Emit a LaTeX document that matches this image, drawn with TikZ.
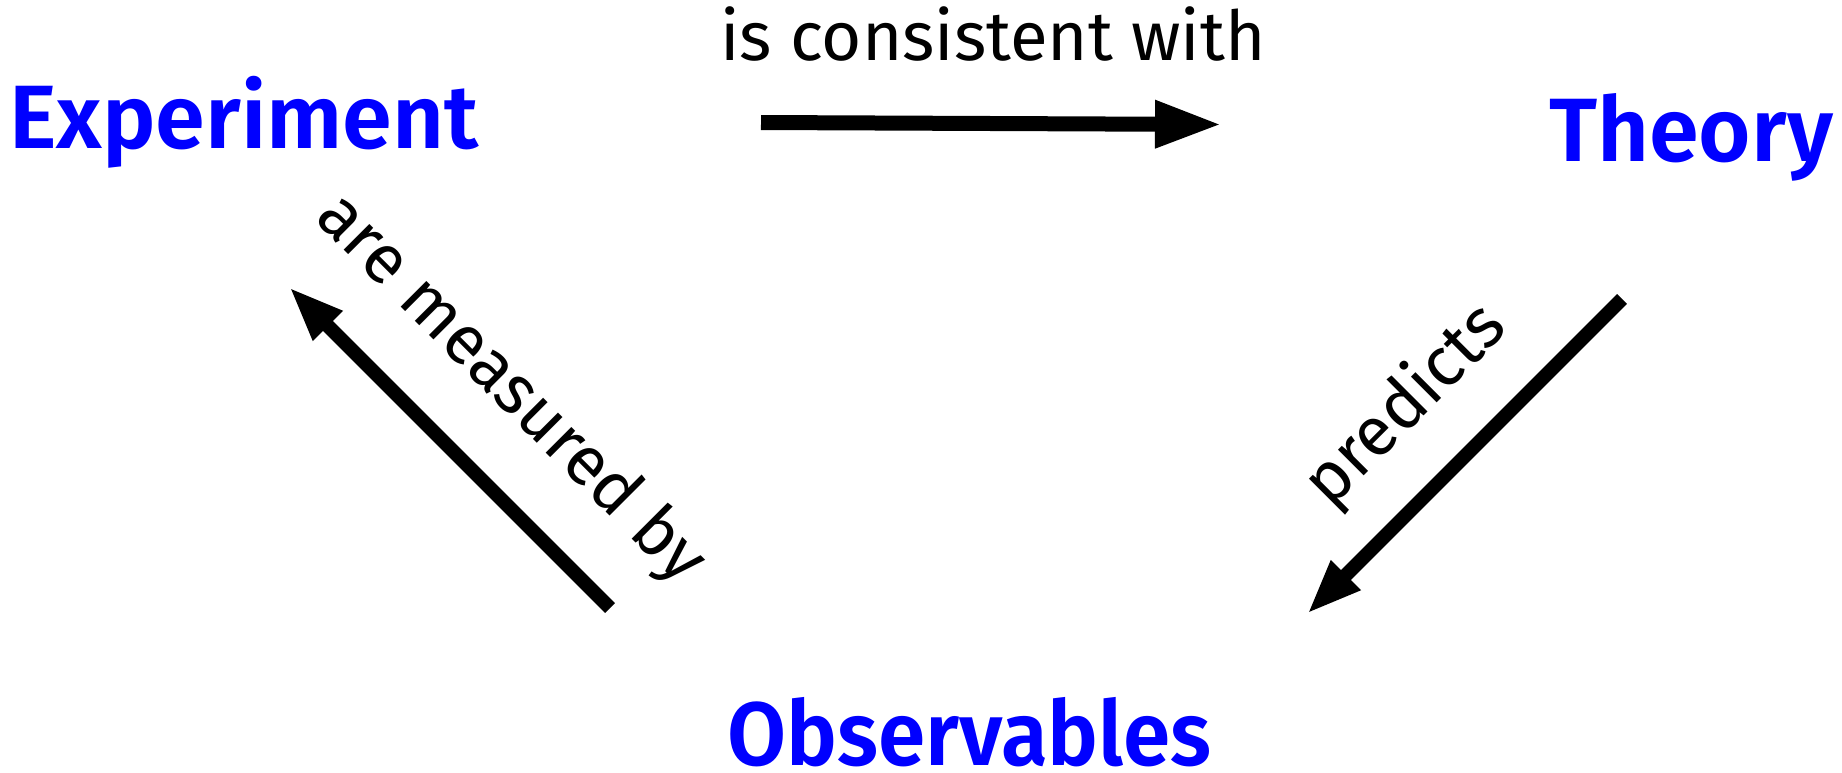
\documentclass[tikz,border=0pt]{standalone}
\usepackage{fontspec}
\setmainfont{Fira Sans}
\newfontfamily\termfont{Fira Sans SemiBold}
\newfontfamily\termfontnarrow[FakeStretch=0.95]{Fira Sans SemiBold}
\usetikzlibrary{arrows.meta}
\definecolor{termblue}{RGB}{0,0,255}
\tikzset{
  term/.style={text=termblue, font=\fontsize{90}{100}\termfont, inner sep=0pt, anchor=base west},
  narrowterm/.style={term, font=\fontsize{90}{100}\termfontnarrow},
  rel/.style={font=\fontsize{69}{75}\selectfont, inner sep=0pt},
  bigarrow/.style={line width=15pt, -{Triangle[length=67pt,width=44pt]}},
  smallarrow/.style={line width=14pt, -{Triangle[length=55pt,width=38pt]}}
}
\begin{document}
\begin{tikzpicture}[x=1pt,y=-1pt]
\useasboundingbox (0,0) rectangle (1842,772);
\node[term] (exp) at (9,148) {Experiment};
\node[term] (th) at (1549,161) {Theory};
\node[narrowterm] (obs) at (727,765) {Observables};
\node[rel, anchor=base west] (cons) at (720,60) {is consistent with};
\node[rel, rotate=-45] (meas) at (510,390) {are measured by};
\node[rel, rotate=45] (pred) at (1406,406) {predicts};
\coordinate (a1s) at (761,122.5);
\coordinate (a1e) at (1222,124.5);
\coordinate (a2s) at (610,608);
\coordinate (a2e) at (289,287);
\coordinate (a3s) at (1622,299);
\coordinate (a3e) at (1307,614);
\draw[bigarrow] (a1s) -- (a1e);
\draw[smallarrow] (a2s) -- (a2e);
\draw[smallarrow] (a3s) -- (a3e);
\end{tikzpicture}
\end{document}
